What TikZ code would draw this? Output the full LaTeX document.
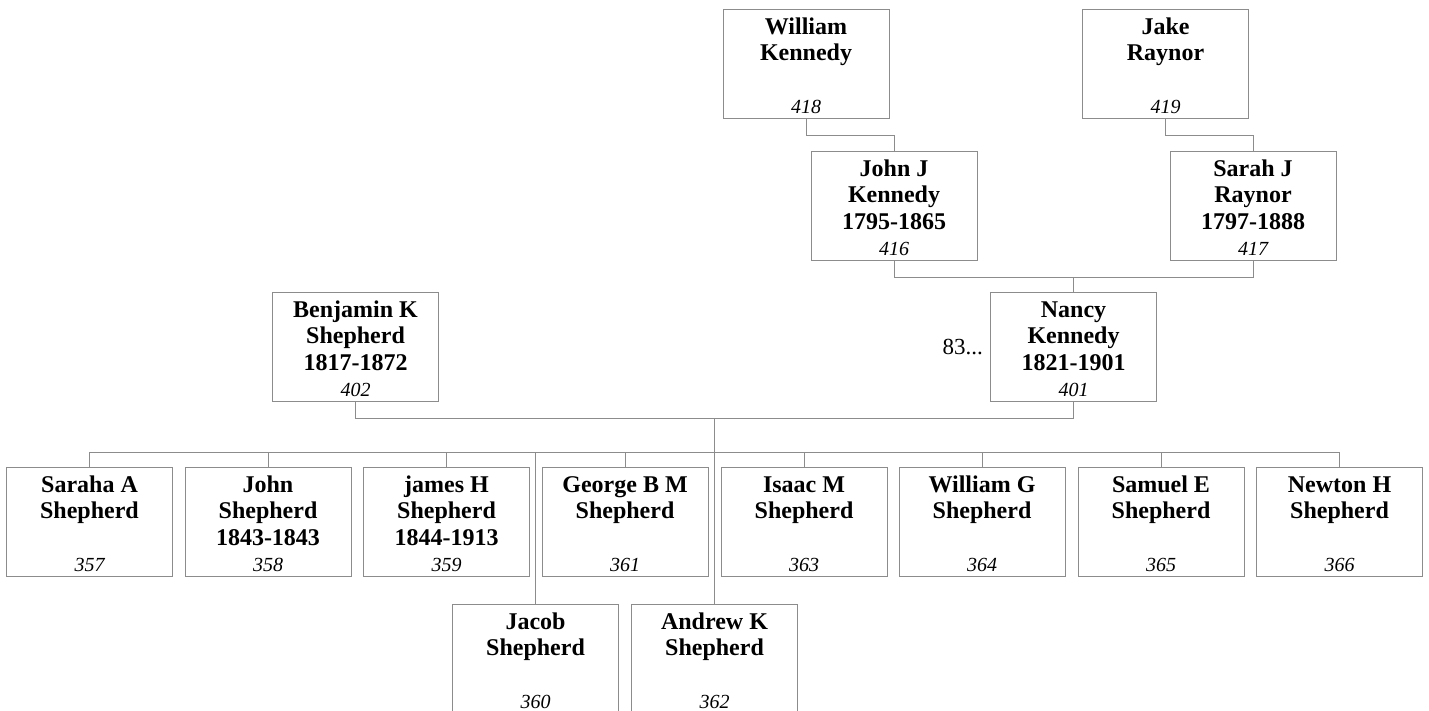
\documentclass[tikz,border=0pt]{standalone}
\usepackage{fontspec}
\setmainfont{Liberation Serif}
\usepackage{tikz}
\usetikzlibrary{positioning}
\definecolor{boxgray}{HTML}{8C8C8C}

\begin{document}
\begin{tikzpicture}[
				x=1pt, y=-1pt,
				person/.style={draw=boxgray, line width=1pt, minimum width=166pt, minimum height=109pt,
					inner sep=0pt, anchor=north, align=center,
					font=\bfseries\fontsize{24pt}{26.5pt}\selectfont,
					text height=104pt, text depth=5pt},
				link/.style={draw=boxgray, line width=1pt}
				]
				
				\useasboundingbox (0,0) rectangle (1429,710);
				
				% Bisabuelos
				\node[person] (P418) at (806,9) {William\\Kennedy\\~\\{\mdseries\itshape\fontsize{20pt}{26.5pt}\selectfont 418}};
				\node[person] (P419) at (1165.5,9) {Jake\\Raynor\\~\\{\mdseries\itshape\fontsize{20pt}{26.5pt}\selectfont 419}};
				
				% Abuelos
				\node[person] (P416) at (894,151) {John J\\Kennedy\\1795-1865\\{\mdseries\itshape\fontsize{20pt}{26.5pt}\selectfont 416}};
				\node[person] (P417) at (1253,151) {Sarah J\\Raynor\\1797-1888\\{\mdseries\itshape\fontsize{20pt}{26.5pt}\selectfont 417}};
				
				% Padres
				\node[person] (P402) at (355.5,292) {Benjamin K\\Shepherd\\1817-1872\\{\mdseries\itshape\fontsize{20pt}{26.5pt}\selectfont 402}};
				\node[person] (P401) at (1073.5,292) {Nancy\\Kennedy\\1821-1901\\{\mdseries\itshape\fontsize{20pt}{26.5pt}\selectfont 401}};
				\node[left=7pt of P401, inner sep=0pt, font=\fontsize{23pt}{26.5pt}\selectfont] (more) {83...};
				
				% Hijos
				\node[person] (P357) at (89.5,467) {Saraha A\\Shepherd\\~\\{\mdseries\itshape\fontsize{20pt}{26.5pt}\selectfont 357}};
				\node[person] (P358) at (268,467) {John\\Shepherd\\1843-1843\\{\mdseries\itshape\fontsize{20pt}{26.5pt}\selectfont 358}};
				\node[person] (P359) at (446.5,467) {james H\\Shepherd\\1844-1913\\{\mdseries\itshape\fontsize{20pt}{26.5pt}\selectfont 359}};
				\node[person] (P361) at (625,467) {George B M\\Shepherd\\~\\{\mdseries\itshape\fontsize{20pt}{26.5pt}\selectfont 361}};
				\node[person] (P363) at (804,467) {Isaac M\\Shepherd\\~\\{\mdseries\itshape\fontsize{20pt}{26.5pt}\selectfont 363}};
				\node[person] (P364) at (982,467) {William G\\Shepherd\\~\\{\mdseries\itshape\fontsize{20pt}{26.5pt}\selectfont 364}};
				\node[person] (P365) at (1161,467) {Samuel E\\Shepherd\\~\\{\mdseries\itshape\fontsize{20pt}{26.5pt}\selectfont 365}};
				\node[person] (P366) at (1339.5,467) {Newton H\\Shepherd\\~\\{\mdseries\itshape\fontsize{20pt}{26.5pt}\selectfont 366}};
				\node[person] (P360) at (535.5,604) {Jacob\\Shepherd\\~\\{\mdseries\itshape\fontsize{20pt}{26.5pt}\selectfont 360}};
				\node[person] (P362) at (714.5,604) {Andrew K\\Shepherd\\~\\{\mdseries\itshape\fontsize{20pt}{26.5pt}\selectfont 362}};
				
				% Lineas
				\coordinate (bus) at (714.5,452);
				\draw[link] (P418.south) -- ++(0,16) -| (P416.north);
				\draw[link] (P419.south) -- ++(0,16) -| (P417.north);
				\draw[link] (P416.south) -- ++(0,16) -| (P401.north);
				\draw[link] (P417.south) -- ++(0,16) -| (P401.north);
				\draw[link] (P402.south) -- ++(0,16) -| (bus);
				\draw[link] (P401.south) -- ++(0,16) -| (bus);
				\foreach \c in {357,358,359,360,361,362,363,364,365,366}
					\draw[link] (bus) -| (P\c.north);
				
			\end{tikzpicture}
\end{document}
